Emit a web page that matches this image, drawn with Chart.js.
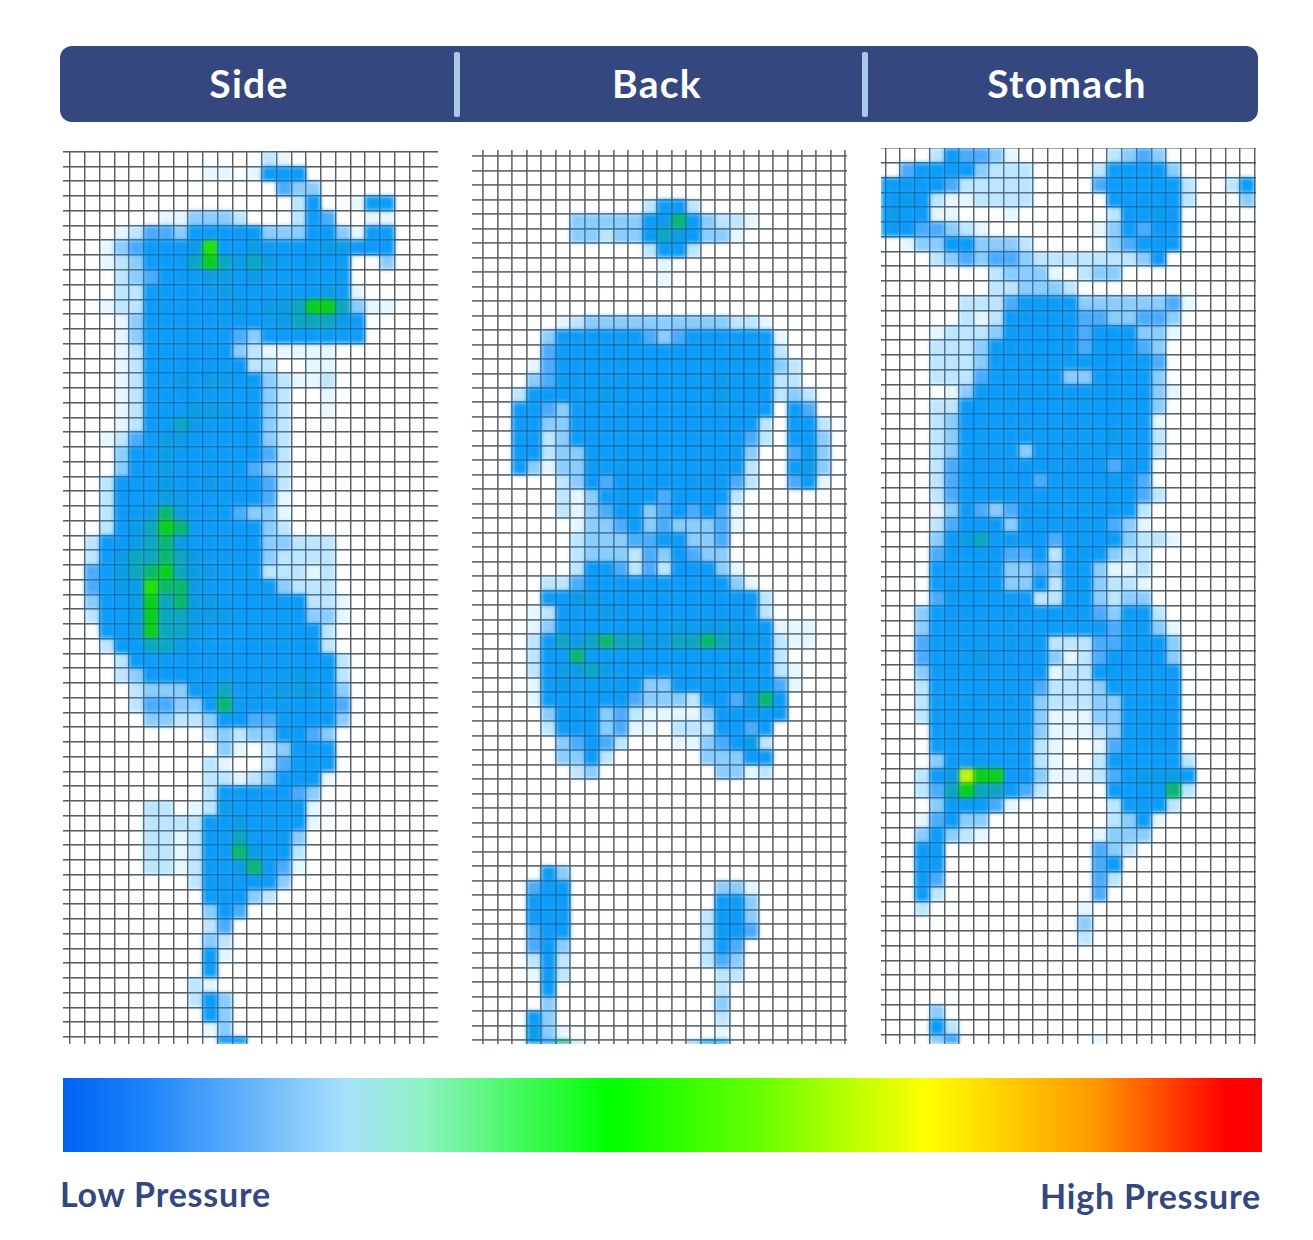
<!DOCTYPE html>
<html>
<head>
<meta charset="utf-8">
<title>Pressure map</title>
<script src="https://cdn.jsdelivr.net/npm/chart.js@4"></script>
<style>
  html, body { margin: 0; background: #fff; }
  #page { position: relative; width: 1313px; height: 1240px; overflow: hidden; font-family: Lato, sans-serif; font-weight: 700; }
  #bar { position: absolute; left: 60px; top: 46px; width: 1198px; height: 76px; background: #34487f; border-radius: 12px; }
  .sep { position: absolute; top: 6px; width: 6px; height: 65px; background: #a9c8e6; border-radius: 2px; }
  .head { position: absolute; top: 12px; color: #fff; font-size: 39px; line-height: 50px; letter-spacing: 1.3px; transform: translateX(-50%); }
  .panel { position: absolute; overflow: hidden; }
  .panel canvas { position: absolute; left: 0; top: 0; }
  .panel canvas.heat { filter: blur(2.2px); }
  .lbl { position: absolute; color: #34487f; font-size: 34px; line-height: 40px; letter-spacing: 0.8px; white-space: nowrap; }
</style>
</head>
<body>
<div id="page">
  <div id="bar"></div>
  <div id="legendWrap" class="panel" style="left:63px;top:1078px;width:1199px;height:74px"><canvas id="legend" width="1199" height="74"></canvas></div>
</div>
<script>
const panelTitles = ["Side", "Back", "Stomach"];
const titleCenters = [249, 657, 1067];
const lowLabel = "Low Pressure";
const highLabel = "High Pressure";

// pressure level per grid cell, one string per row, one char per column (. = none)
const sideRows = [
  "",
  "..............21",
  "..........11.1555",
  "...............433",
  "................25..155",
  ".......113332...254..11",
  "....1244355555333553155",
  "...1345556a556555566555",
  "...12355579767655655..3",
  "....2345556656555555",
  "....22555556555555651",
  "...12255555565667997311",
  "....13555555555677765",
  "....13555555435555555",
  "....125555553211111",
  "....12555555522..11",
  "....125565665532112",
  "....125555555532..1",
  "....125556665532..1",
  "....125576555532",
  "...1245665555532",
  "....355655555542",
  "....355655555432",
  "...2555655655542",
  "...2555665555541",
  "...2556865554331",
  "...2567985555532",
  "..25567865555533222",
  "..25677876555532222",
  "..45678976655522212",
  "..4566a886555553222",
  "..355697866555555221",
  "..255697766655555331",
  "...5569776555555552",
  "...2557765555555552",
  "....2555555555555552",
  "....2355555555556552",
  ".....233355755566653",
  ".....244335855555554",
  "......33223554455553",
  "..........232335543",
  "...........31.23555",
  "..........21..24555",
  "..........221235551",
  "..........25555543",
  "......22.126555551",
  "......222255655551",
  "......22125575553",
  "......22125586552",
  "......22125568541",
  ".........2555553",
  "..........55532",
  "..........354",
  "..........24",
  "..........32",
  "..........51",
  "..........5",
  ".........21",
  ".........253",
  "..........53",
  "..........13",
  "...........55"
];

const backRows = [
  "", "", "", "",
  "............2552",
  ".......3333356853221",
  ".......332335765331",
  "............2552",
  ".............1",
  ".............1",
  "", "",
  "......123333333333221",
  ".....35555554345555551",
  ".....45555555555555552",
  "....1455555555555555532",
  "....3455555555555655522",
  "...255555655555556555232",
  "...554355555555555555.54",
  "...553355555555555552.552",
  "...552355555555555542.553",
  "...55233555555555553..453",
  "...53133555555555552..563",
  "......23545555555542..451",
  "......2135555455552",
  "......2134553454541",
  ".......133453433341",
  ".......23334455334",
  ".......23332435433",
  ".......255424255531",
  ".....224555555555531",
  ".....5566555555555552",
  "....12555655555555552",
  "....13555555556566655111",
  "....25767877667787665211",
  "....255855555555555552",
  "....2566765555555565521",
  "....1565555533555555541",
  "....155555543332554685",
  ".....35553421111355555",
  ".....25553411.2225545",
  "......34542...1134562",
  "......3352......33355",
  ".......23........3312",
  "", "", "", "", "", "",
  ".....53",
  "....455..........331",
  "....555..........553",
  "....555.........2553",
  "....455.........2554",
  "....453.........254",
  "....252.........243",
  "....152..........22",
  ".....5...........2",
  ".....3...........3",
  "....53...........2",
  "....631..........1",
  "....5582.......355"
];

const stomachRows = [
  "....254431......2343",
  "..455553222....255553",
  "55555422222....4555552..25",
  "55652112222.....555552...3",
  "565511...1......25565",
  "55544321.......135455",
  "..133553332.....34555",
  "....2343443222222235",
  "........23331.233",
  "........223332",
  "......2224555533333341",
  "......212555554433443",
  "....12223555554555331",
  "....2223555555455543",
  "....2223555555555554",
  "....2224555553355553",
  ".....1355555555555531",
  "....2255555555555553",
  "....2355555555555551",
  "....2355555555556552",
  "....2355553555555552",
  "....245555555555455",
  "....245555545555554",
  "....2455555555555542",
  "....135434555555552",
  "....245553555555431",
  "....35675555455553221",
  "....455554452555322",
  "....555553343553112",
  "....555553352553221",
  "....455555522553233",
  "...35555555555543552",
  "...355555555555545531",
  "...455555555222445553",
  "...455565555312455553",
  "...355555555122555555",
  "...255555554222355555",
  "...255555553222335555",
  "...255555553111335555",
  "....55555553111235555",
  "....555555521..145555",
  "....355555521..2555552",
  "...256b995531112456665",
  "...247977542....555582",
  "....355541......25552",
  "...14533........2351",
  "...35321.......1333",
  "...55..........432",
  "...55..........45",
  "...54..........42",
  "...52..........4",
  "...2..........1",
  "..............3",
  "..............2",
  "", "", "", "",
  "....3",
  "....52",
  "....34.........1"
];

const levelColors = [
  "rgba(0,0,0,0)",
  "rgba(130,210,250,0.2)",
  "rgba(90,190,250,0.4)",
  "rgba(60,170,250,0.6)",
  "rgba(30,150,250,0.8)",
  "rgba(0,150,248,0.95)",
  "rgba(0,150,230,0.95)",
  "rgba(0,160,190,0.95)",
  "rgba(0,180,105,0.96)",
  "rgba(0,205,20,0.97)",
  "rgba(30,225,0,0.98)",
  "rgba(190,245,10,0.99)"
];

const legendStops = [0, 0.07, 0.235, 0.3, 0.456, 0.58, 0.72, 0.86, 0.97, 1];
const legendColors = ["#0062f2", "#1d84fb", "#a6e0fb", "#8ef2c4", "#00ff00", "#66ff00", "#ffff00", "#ff9900", "#ff0000", "#ff0000"];

const panels = [
  { rows: sideRows, left: 63, top: 151, right: 438, bottom: 1044, x0: 70, y0: 151.7, pitchX: 14.75, pitchY: 14.75, line: "#707070", width: 1.4 },
  { rows: backRows, left: 472, top: 150, right: 847, bottom: 1044, x0: 483.3, y0: 156, pitchX: 14.48, pitchY: 14.49, line: "#8c8c8c", width: 1.7 },
  { rows: stomachRows, left: 881, top: 148, right: 1256, bottom: 1044, x0: 885.3, y0: 162.8, pitchX: 14.78, pitchY: 14.77, line: "#707070", width: 1.4 }
];

function cellsFrom(rows) {
  const cells = [];
  rows.forEach((row, r) => {
    for (let c = 0; c < row.length; c++) {
      if (row[c] !== ".") cells.push({ x: c - 0.5, y: r - 0.5, level: parseInt(row[c], 36) });
    }
  });
  return cells;
}

function axes(p, show, color) {
  const common = {
    type: "linear",
    display: show,
    border: { display: false },
    grid: { color: color, lineWidth: p.width, drawTicks: false },
    ticks: { display: false, stepSize: 1, includeBounds: false }
  };
  return {
    x: { ...common, min: (p.left - p.x0) / p.pitchX, max: (p.right - p.x0) / p.pitchX },
    y: { ...common, reverse: true, min: (p.top - p.y0) / p.pitchY, max: (p.bottom - p.y0) / p.pitchY }
  };
}

function addCanvas(parent, w, h, cls) {
  const cv = document.createElement("canvas");
  cv.width = w;
  cv.height = h;
  if (cls) cv.className = cls;
  parent.appendChild(cv);
  return cv;
}

function gridChart(box, p, w, h, color) {
  new Chart(addCanvas(box, w, h), {
    type: "scatter",
    data: { datasets: [{ data: [] }] },
    options: {
      responsive: false,
      animation: false,
      layout: { autoPadding: false },
      plugins: { legend: { display: false }, tooltip: { enabled: false } },
      scales: axes(p, true, color)
    }
  });
}

const page = document.getElementById("page");

panels.forEach((p) => {
  const w = p.right - p.left;
  const h = p.bottom - p.top;
  const box = document.createElement("div");
  box.className = "panel";
  box.style.cssText = `left:${p.left}px;top:${p.top}px;width:${w}px;height:${h}px`;
  page.appendChild(box);

  // grid underneath, blurred heat cells, then a faint grid again so lines show on the blue
  gridChart(box, p, w, h, p.line);

  const cells = cellsFrom(p.rows);
  new Chart(addCanvas(box, w, h, "heat"), {
    type: "scatter",
    data: {
      datasets: [{
        data: cells,
        pointStyle: "rect",
        borderWidth: 0,
        pointBackgroundColor: cells.map((d) => levelColors[d.level]),
        pointRadius: p.pitchX / Math.SQRT2
      }]
    },
    options: {
      responsive: false,
      animation: false,
      layout: { autoPadding: false },
      plugins: { legend: { display: false }, tooltip: { enabled: false } },
      scales: axes(p, false, p.line)
    }
  });

  gridChart(box, p, w, h, "rgba(20,40,70,0.24)");
});

// colour scale
new Chart(document.getElementById("legend"), {
  type: "bar",
  data: {
    labels: ["scale"],
    datasets: [{
      data: [1],
      barPercentage: 1,
      categoryPercentage: 1,
      backgroundColor: (ctx) => {
        const area = ctx.chart.chartArea;
        if (!area) return legendColors[0];
        const g = ctx.chart.ctx.createLinearGradient(area.left, 0, area.right, 0);
        legendStops.forEach((s, i) => g.addColorStop(s, legendColors[i]));
        return g;
      }
    }]
  },
  options: {
    indexAxis: "y",
    responsive: false,
    animation: false,
    plugins: { legend: { display: false }, tooltip: { enabled: false } },
    scales: {
      x: { display: false, min: 0, max: 1 },
      y: { display: false }
    }
  }
});

// header bar and labels
const bar = document.getElementById("bar");
[394, 802].forEach((x) => {
  const s = document.createElement("div");
  s.className = "sep";
  s.style.left = x + "px";
  bar.appendChild(s);
});
panelTitles.forEach((t, i) => {
  const d = document.createElement("div");
  d.className = "head";
  d.textContent = t;
  d.style.left = titleCenters[i] - 60 + "px";
  bar.appendChild(d);
});

const low = document.createElement("div");
low.className = "lbl";
low.textContent = lowLabel;
low.style.cssText = "left:60px;top:1174px";
page.appendChild(low);
const high = document.createElement("div");
high.className = "lbl";
high.textContent = highLabel;
high.style.cssText = "right:52px;top:1176px";
page.appendChild(high);
</script>
</body>
</html>
